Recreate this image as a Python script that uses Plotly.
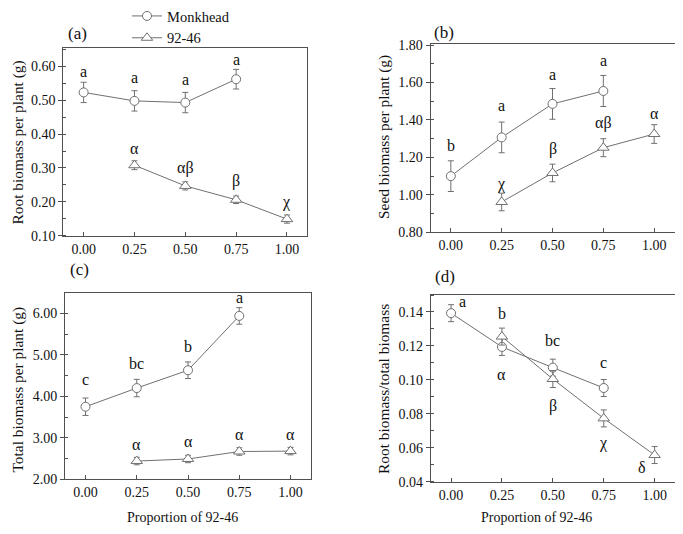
import plotly.graph_objects as go

# ---------------- data ----------------
x_monk = [0.00, 0.25, 0.50, 0.75]
x_9246 = [0.25, 0.50, 0.75, 1.00]
x_ticks = [0.00, 0.25, 0.50, 0.75, 1.00]

# (a) root biomass per plant (g)
root_monk = [0.523, 0.498, 0.493, 0.562]
root_monk_err = [0.030, 0.030, 0.030, 0.029]
root_9246 = [0.308, 0.247, 0.206, 0.149]
root_9246_err = [0.013, 0.012, 0.011, 0.012]
root_monk_lab = ["a", "a", "a", "a"]
root_9246_lab = ["α", "αβ", "β", "χ"]

# (b) seed biomass per plant (g)
seed_monk = [1.100, 1.307, 1.486, 1.555]
seed_monk_err = [0.082, 0.082, 0.082, 0.083]
seed_9246 = [0.962, 1.117, 1.252, 1.325]
seed_9246_err = [0.047, 0.047, 0.048, 0.050]
seed_monk_lab = ["b", "a", "a", "a"]
seed_9246_lab = ["χ", "β", "αβ", "α"]

# (c) total biomass per plant (g)
tot_monk = [3.75, 4.20, 4.63, 5.94]
tot_monk_err = [0.21, 0.21, 0.20, 0.20]
tot_9246 = [2.44, 2.49, 2.67, 2.68]
tot_9246_err = [0.09, 0.09, 0.09, 0.09]
tot_monk_lab = ["c", "bc", "b", "a"]
tot_9246_lab = ["α", "α", "α", "α"]

# (d) root biomass / total biomass
ratio_monk = [0.1393, 0.1194, 0.1072, 0.0952]
ratio_monk_err = [0.005, 0.005, 0.005, 0.005]
ratio_9246 = [0.1255, 0.1005, 0.0773, 0.0557]
ratio_9246_err = [0.005, 0.005, 0.005, 0.005]
ratio_monk_lab = ["a", "b", "bc", "c"]
ratio_9246_lab = ["α", "β", "χ", "δ"]

# ---------------- styling / layout ----------------
# the page body adds an 8px margin, so the figure is drawn 16px smaller
OFF = 8
W, H = 683 - 2 * OFF, 534 - 2 * OFF
FONT = "Liberation Serif"
GRAY = "#707070"
FRAME = "#505050"
TXT = "#111111"


def px_x(p):
    return (p - OFF) / W


def px_y(p):
    return 1 - (p - OFF) / H


# panel frames in page pixels: left, right, top, bottom
frames = {
    1: (63.3, 307.3, 47.7, 235.7),
    2: (430.5, 674.5, 44.0, 232.3),
    3: (65.0, 311.0, 292.7, 479.3),
    4: (430.7, 675.0, 295.0, 481.7),
}
yranges = {1: [0.10, 0.655], 2: [0.80, 1.806], 3: [2.0, 6.5], 4: [0.04, 0.15]}
ydtick = {1: 0.1, 2: 0.2, 3: 1.0, 4: 0.02}
ytitles = {
    1: "Root biomass per plant (g)",
    2: "Seed biomass per plant (g)",
    3: "Total biomass per plant (g)",
    4: "Root biomass/total biomass",
}
ytitle_pos = {1: (17.5, 143), 2: (384, 137), 3: (17.5, 390), 4: (383, 389)}
panel_lab = {1: ("(a)", 77, 33), 2: ("(b)", 444, 32), 3: ("(c)", 79, 269), 4: ("(d)", 445, 276)}

panels = {
    1: (root_monk, root_monk_err, root_9246, root_9246_err, root_monk_lab, root_9246_lab),
    2: (seed_monk, seed_monk_err, seed_9246, seed_9246_err, seed_monk_lab, seed_9246_lab),
    3: (tot_monk, tot_monk_err, tot_9246, tot_9246_err, tot_monk_lab, tot_9246_lab),
    4: (ratio_monk, ratio_monk_err, ratio_9246, ratio_9246_err, ratio_monk_lab, ratio_9246_lab),
}
# label offsets (px) relative to each point centre
off_monk = {
    1: [(0, 21), (0, 23), (0, 23), (0, 20)],
    2: [(0, 31), (0, 32), (0, 29), (0, 30)],
    3: [(0, 27), (0, 25), (0, 24), (0, 18)],
    4: [(11, 12), (0, 33), (0, 27), (0, 26)],
}
off_9246 = {
    1: [(0, 17), (0, 18), (0, 19), (0, 17)],
    2: [(0, 18), (0, 24), (0, 25), (0, 21)],
    3: [(0, 17), (0, 17), (0, 17), (0, 17)],
    4: [(0, -38), (0, -27), (0, -25), (-13, -12)],
}

fig = go.Figure()
annotations = []
layout = {}

for k in range(1, 5):
    sfx = "" if k == 1 else str(k)
    xa, ya = "x" + sfx, "y" + sfx
    m, me, t, te, ml, tl = panels[k]
    fig.add_trace(go.Scatter(
        x=x_monk, y=m, xaxis=xa, yaxis=ya, mode="lines+markers", name="Monkhead",
        showlegend=(k == 1), legendgroup="m",
        line=dict(color=GRAY, width=1),
        marker=dict(symbol="circle", size=9, color="white", line=dict(color=GRAY, width=1)),
        error_y=dict(type="data", array=me, color=GRAY, thickness=1, width=3),
    ))
    fig.add_trace(go.Scatter(
        x=x_9246, y=t, xaxis=xa, yaxis=ya, mode="lines+markers", name="92-46",
        showlegend=(k == 1), legendgroup="t",
        line=dict(color=GRAY, width=1),
        marker=dict(symbol="triangle-up", size=10, color="white", line=dict(color=GRAY, width=1)),
        error_y=dict(type="data", array=te, color=GRAY, thickness=1, width=3),
    ))
    l, r, tp, bt = frames[k]
    common = dict(showline=True, mirror=True, linecolor=FRAME, linewidth=1,
                  showgrid=False, zeroline=False, automargin=False,
                  tickfont=dict(family=FONT, size=14, color=TXT),
                  tickcolor=FRAME, tickwidth=1)
    layout["xaxis" + sfx] = dict(
        common, domain=[px_x(l), px_x(r)], anchor=ya, range=[-0.1, 1.1],
        tickmode="array", tickvals=x_ticks, ticktext=[f"{v:.2f}" for v in x_ticks],
        ticks="inside", ticklen=4,
    )
    layout["yaxis" + sfx] = dict(
        common, domain=[px_y(bt), px_y(tp)], anchor=xa, range=yranges[k],
        tick0=yranges[k][0], dtick=ydtick[k], tickformat=".2f",
        ticks="outside", ticklen=4,
        minor=dict(dtick=ydtick[k] / 2, ticks="inside", ticklen=3, tickcolor=FRAME, showgrid=False),
    )
    # letters
    for xs, ys, labs, offs in ((x_monk, m, ml, off_monk[k]), (x_9246, t, tl, off_9246[k])):
        for xv, yv, lab, (dx, dy) in zip(xs, ys, labs, offs):
            annotations.append(dict(
                x=xv, y=yv, xref=xa, yref=ya, text=lab, showarrow=False,
                xshift=dx, yshift=dy, xanchor="center", yanchor="middle",
                font=dict(family=FONT, size=16, color=TXT),
            ))
    # y titles
    px, py = ytitle_pos[k]
    annotations.append(dict(
        x=px_x(px), y=px_y(py), xref="paper", yref="paper", text=ytitles[k],
        showarrow=False, textangle=-90, xanchor="center", yanchor="middle",
        font=dict(family=FONT, size=15.4, color=TXT),
    ))
    lab, lx, ly = panel_lab[k]
    annotations.append(dict(
        x=px_x(lx), y=px_y(ly), xref="paper", yref="paper", text=lab,
        showarrow=False, xanchor="center", yanchor="middle",
        font=dict(family=FONT, size=17, color=TXT),
    ))

for cx in (183, 536):
    annotations.append(dict(
        x=px_x(cx), y=px_y(517), xref="paper", yref="paper", text="Proportion of 92-46",
        showarrow=False, xanchor="center", yanchor="middle",
        font=dict(family=FONT, size=14, color=TXT),
    ))

fig.update_layout(
    **layout,
    width=W, height=H, autosize=False,
    margin=dict(l=0, r=0, t=0, b=0, autoexpand=False),
    paper_bgcolor="white", plot_bgcolor="white",
    annotations=annotations,
    legend=dict(x=px_x(127), y=px_y(0), xanchor="left", yanchor="top",
                bgcolor="rgba(0,0,0,0)", font=dict(family=FONT, size=14.5, color=TXT),
                itemwidth=30, tracegroupgap=0),
    font=dict(family=FONT),
)

fig.write_html("out.html")
